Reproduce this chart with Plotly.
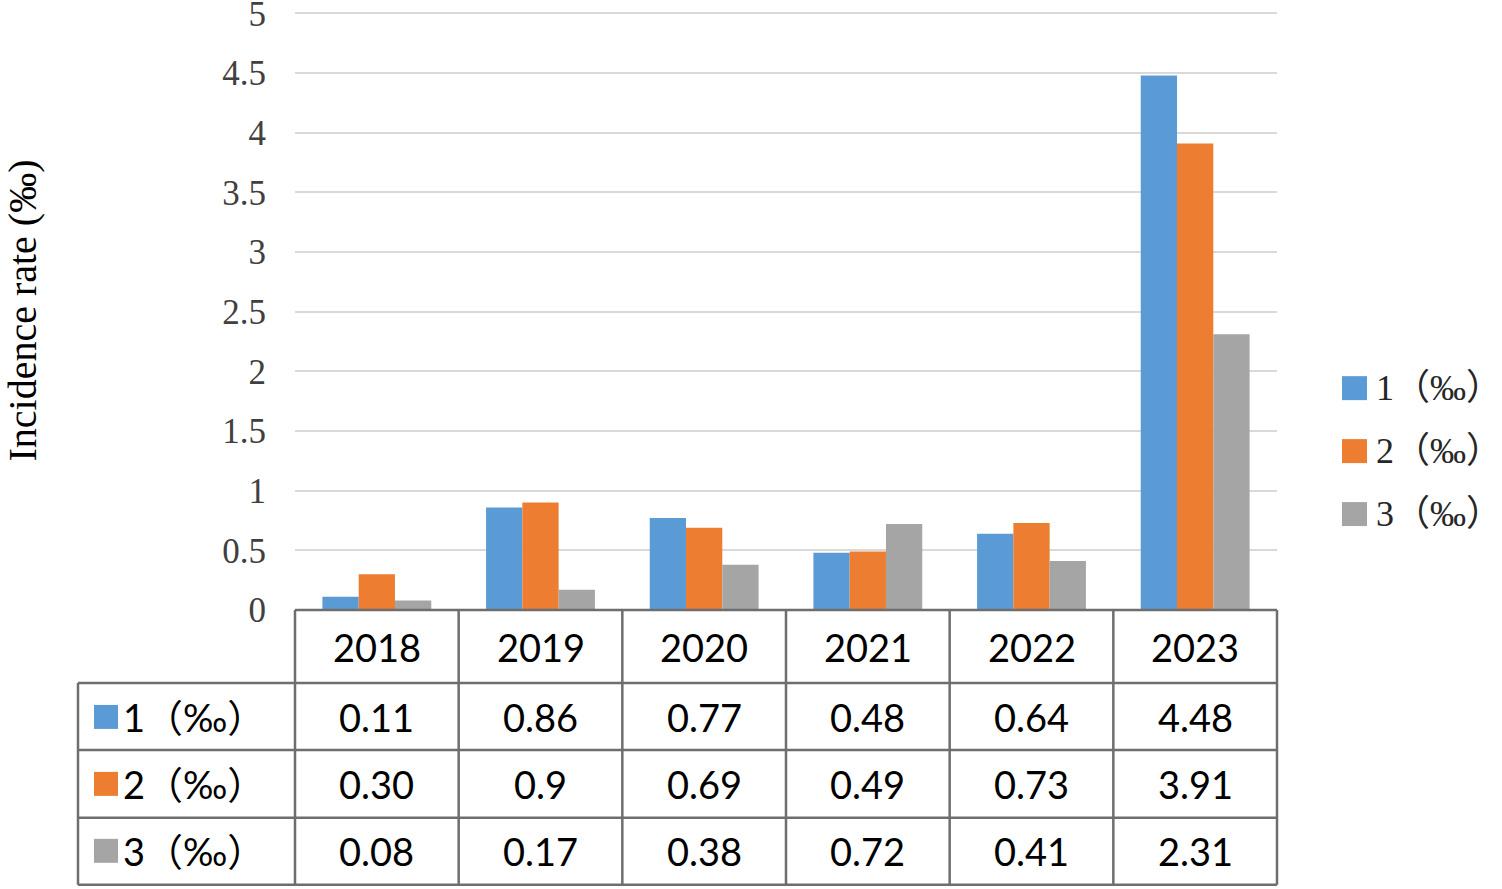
import plotly.graph_objects as go

years = ["2018", "2019", "2020", "2021", "2022", "2023"]
series_names = ["1（‰）", "2（‰）", "3（‰）"]
s1 = [0.11, 0.86, 0.77, 0.48, 0.64, 4.48]
s2 = [0.30, 0.9, 0.69, 0.49, 0.73, 3.91]
s3 = [0.08, 0.17, 0.38, 0.72, 0.41, 2.31]
s1_txt = ["0.11", "0.86", "0.77", "0.48", "0.64", "4.48"]
s2_txt = ["0.30", "0.9", "0.69", "0.49", "0.73", "3.91"]
s3_txt = ["0.08", "0.17", "0.38", "0.72", "0.41", "2.31"]
colors = ["#5B9BD5", "#ED7D31", "#A5A5A5"]

W, H = 1502, 889
YMAX = 5.02
L, R, B = 295, 1277, 610
T = B - (B - 13) * YMAX / 5.0


def px(x):
    return (x - L) / (R - L)


def py(y):
    return (B - y) / (B - T)


serif = "Liberation Serif, Times New Roman, Noto Sans CJK SC, serif"
sans = "Lato, Noto Sans, Noto Sans CJK SC, sans-serif"

fig = go.Figure()
for name, vals, col in zip(series_names, [s1, s2, s3], colors):
    fig.add_trace(go.Bar(x=years, y=vals, name=name, marker_color=col,
                         marker_line_width=0, showlegend=False))

shapes = []
annotations = []
line_col = "#6E6E6E"
lw = 2.5

# table horizontal lines
shapes.append(dict(type="line", xref="paper", yref="paper", x0=0, x1=1,
                   y0=py(610), y1=py(610), line=dict(color=line_col, width=lw)))
for yy in [683, 750, 818, 885]:
    shapes.append(dict(type="line", xref="paper", yref="paper", x0=px(78), x1=1,
                       y0=py(yy), y1=py(yy), line=dict(color=line_col, width=lw)))
# vertical lines
n = len(years)
for i in range(n + 1):
    shapes.append(dict(type="line", xref="paper", yref="paper", x0=i / n, x1=i / n,
                       y0=py(610), y1=py(885), line=dict(color=line_col, width=lw)))
shapes.append(dict(type="line", xref="paper", yref="paper", x0=px(78), x1=px(78),
                   y0=py(683), y1=py(885), line=dict(color=line_col, width=lw)))

# header years
for i, yr in enumerate(years):
    annotations.append(dict(x=i, xref="x", y=py(647), yref="paper", text=yr,
                            xanchor="center", yanchor="middle",
                            showarrow=False, font=dict(family=sans, size=38, color="#000")))

row_centers = [717, 784, 851]
for rc, txts, col, name in zip(row_centers, [s1_txt, s2_txt, s3_txt], colors, series_names):
    for i, t in enumerate(txts):
        annotations.append(dict(x=i, xref="x", y=py(rc), yref="paper", text=t,
                                xanchor="center", yanchor="middle",
                                showarrow=False, font=dict(family=sans, size=38, color="#000")))
    shapes.append(dict(type="rect", xref="paper", yref="paper", x0=px(94), x1=px(118),
                       y0=py(rc + 12), y1=py(rc - 12), fillcolor=col, line=dict(width=0)))
    annotations.append(dict(x=px(121), xref="paper", y=py(rc), yref="paper", text=name,
                            xanchor="left", yanchor="middle", showarrow=False,
                            font=dict(family=sans, size=38, color="#000")))

# right legend
for yc, col, name in zip([388, 451, 514], colors, series_names):
    shapes.append(dict(type="rect", xref="paper", yref="paper", x0=px(1342), x1=px(1367),
                       y0=py(yc + 12), y1=py(yc - 12), fillcolor=col, line=dict(width=0)))
    annotations.append(dict(x=px(1374), xref="paper", y=py(yc), yref="paper", text=name,
                            xanchor="left", yanchor="middle", showarrow=False,
                            font=dict(family=serif, size=36, color="#262626")))

fig.update_layout(
    width=W, height=H,
    margin=dict(l=L, r=W - R, t=T, b=H - B, autoexpand=False),
    paper_bgcolor="white", plot_bgcolor="white",
    barmode="group", bargap=0.335, bargroupgap=0,
    shapes=shapes, annotations=annotations,
    xaxis=dict(type="category", range=[-0.5, n - 0.5], showticklabels=False,
               showgrid=False, zeroline=False, showline=False, ticks=""),
    yaxis=dict(range=[0, YMAX], dtick=0.5, tick0=0, showgrid=True, gridcolor="#D9D9D9",
               gridwidth=2, zeroline=False, showline=False, ticks="",
               ticklabelstandoff=28, ticklabeloverflow="allow",
               tickfont=dict(family=serif, size=35, color="#404040"),
               title=dict(text="Incidence rate (‰)", standoff=178,
                          font=dict(family=serif, size=40, color="#000"))),
)

fig.write_html("out.html", config={"displayModeBar": False},
               post_script="document.body.style.margin='0';")
